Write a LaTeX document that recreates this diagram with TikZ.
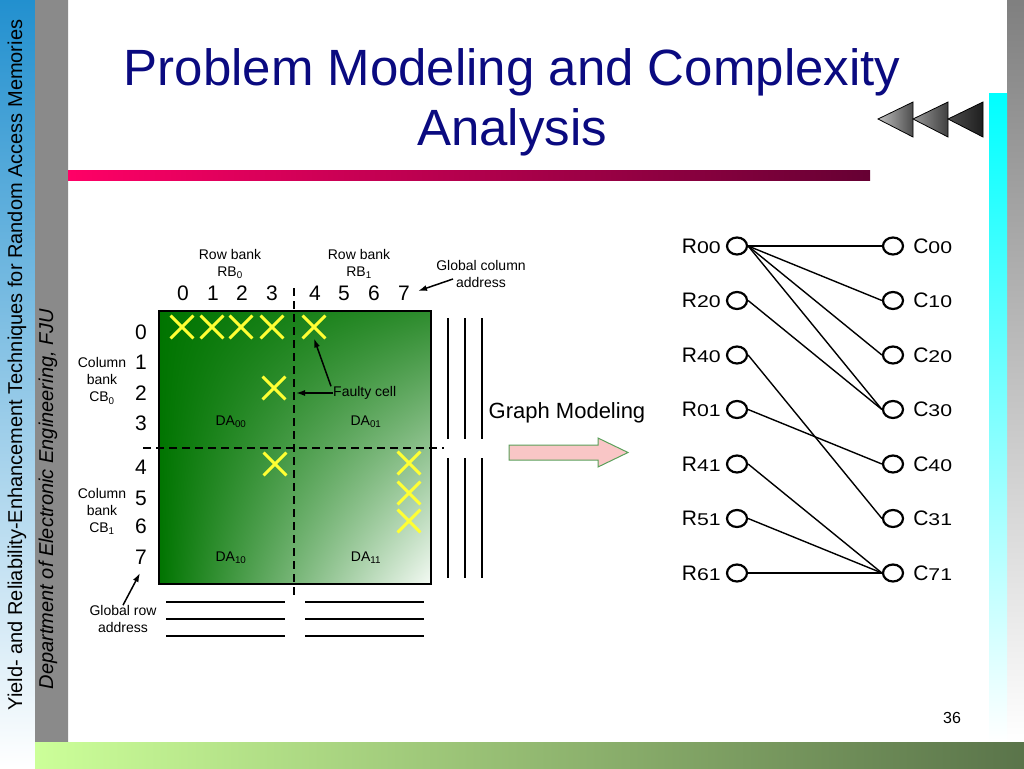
\documentclass[tikz,border=0pt]{standalone}
\usepackage{fontspec}
\setmainfont{Liberation Sans}
\usetikzlibrary{arrows.meta, positioning, shapes.geometric, shapes.misc, shadings}
\definecolor{titlenavy}{HTML}{0A0A80}
\definecolor{sideblue}{HTML}{2290CF}
\definecolor{sidegray}{HTML}{8A8A8A}
\definecolor{sidelight}{HTML}{F2F2F2}
\definecolor{barpink}{HTML}{FF0066}
\definecolor{barwine}{HTML}{660033}
\definecolor{footlight}{HTML}{CCFF99}
\definecolor{footdark}{HTML}{5A744A}
\definecolor{edgecyan}{HTML}{00FFFF}
\definecolor{memdark}{HTML}{007400}
\definecolor{memmid}{HTML}{2E8C2E}
\definecolor{memlight}{HTML}{F4FAF4}
\definecolor{faultyellow}{HTML}{FFFF33}
\definecolor{arrowpink}{HTML}{F9C6C6}
\definecolor{arrowgreen}{HTML}{5AA05A}
\newcommand{\vname}[2]{#1{\fontsize{17pt}{17pt}\selectfont\scalebox{1.25}[1]{#2}}}

\begin{document}
\begin{tikzpicture}[x=1pt, y=-1pt,
    node distance=35.3pt,
    >={Latex[length=9pt, width=6pt]},
    idx/.style={font=\fontsize{21pt}{21pt}\selectfont, inner sep=0pt},
    lbl/.style={font=\fontsize{14pt}{17pt}\selectfont, align=center, inner sep=0pt},
    fault/.style={cross out, draw=faultyellow, line width=2.9pt, minimum size=20pt, inner sep=0pt},
    vtx/.style={ellipse, draw, line width=2.2pt, minimum width=20pt, minimum height=17pt, inner sep=0pt},
    vlab/.style={font=\fontsize{21pt}{21pt}\selectfont, inner sep=0pt},
    split/.style={dash pattern=on 8pt off 5pt, line width=1.8pt},
    bus/.style={line width=1.8pt},
    arr/.style={->, line width=1.5pt},
    edge/.style={line width=1.4pt},
]
\useasboundingbox (0,0) rectangle (1024,768);

% Slide background bars
\shade[top color=sideblue, bottom color=white] (0,0) rectangle (35,768);
\shade[top color=sidegray, middle color=sidelight, bottom color=sidegray] (35,0) rectangle (68,742);
\shade[top color=gray, bottom color=white] (1007,0) rectangle (1024,742);
\shade[top color=edgecyan, bottom color=white] (989,93) rectangle (1007,742);
\shade[left color=footlight, right color=footdark] (35,742) rectangle (1024,768);
\shade[left color=barpink, right color=barwine] (68,170) rectangle (870,180);

% Navigation triangles
\shadedraw[left color=black!25, right color=black!70, line width=0.8pt] (878,119) -- (913,102) -- (913,137) -- cycle;
\shadedraw[left color=black!40, right color=black!75, line width=0.8pt] (913,119) -- (948,102) -- (948,137) -- cycle;
\shadedraw[left color=black!70, right color=black!88, line width=0.8pt] (948,119) -- (983,102) -- (983,137) -- cycle;

% Side texts, title and page number
\node[rotate=90, font=\fontsize{20pt}{20pt}\selectfont] (course) at (17,365) {Yield- and Reliability-Enhancement Techniques for Random Access Memories};
\node[rotate=90, font=\fontsize{20pt}{20pt}\selectfont\itshape] (dept) at (48,499) {Department of Electronic Engineering, FJU};
\node[font=\fontsize{51pt}{60pt}\selectfont, text=titlenavy, align=center] (title) at (512,102) {Problem Modeling and Complexity\\Analysis};
\node[font=\fontsize{16pt}{16pt}\selectfont] (pnum) at (952,718) {36};

% Memory array
\shade[upper left=memdark, upper right=memmid, lower left=memdark, lower right=memlight] (159,311) rectangle (431,584);
\draw[line width=2pt] (159,311) rectangle (431,584);
\draw[split] (294,288) -- (294,597);
\draw[split] (143,448) -- (444,448);

% Spare lines
\draw[bus] (448,318) -- (448,439) (465,318) -- (465,439) (482,318) -- (482,439);
\draw[bus] (448,458) -- (448,578) (465,458) -- (465,578) (482,458) -- (482,578);
\draw[bus] (166,602) -- (285,602) (166,619) -- (285,619) (166,636) -- (285,636);
\draw[bus] (305,602) -- (424,602) (305,619) -- (424,619) (305,636) -- (424,636);

% Column and row addresses
\node[idx] (col0) at (183,293) {0};
\node[idx] (col1) at (213,293) {1};
\node[idx] (col2) at (242,293) {2};
\node[idx] (col3) at (272,293) {3};
\node[idx] (col4) at (315,293) {4};
\node[idx] (col5) at (344,293) {5};
\node[idx] (col6) at (374,293) {6};
\node[idx] (col7) at (404,293) {7};
\node[idx] (row0) at (141,332) {0};
\node[idx] (row1) at (141,362) {1};
\node[idx] (row2) at (141,393) {2};
\node[idx] (row3) at (141,423) {3};
\node[idx] (row4) at (141,467) {4};
\node[idx] (row5) at (141,498) {5};
\node[idx] (row6) at (141,526) {6};
\node[idx] (row7) at (141,557) {7};

% Bank labels
\node[lbl] (rb0) at (230,264) {Row bank\\RB\textsubscript{0}};
\node[lbl] (rb1) at (359,264) {Row bank\\RB\textsubscript{1}};
\node[lbl] (cb0) at (102,381) {Column\\bank\\CB\textsubscript{0}};
\node[lbl] (cb1) at (102,511) {Column\\bank\\CB\textsubscript{1}};
\node[lbl] (gca) at (481,274) {Global column\\address};
\node[lbl] (gra) at (123,619) {Global row\\address};
\node[lbl] (da00) at (231,422) {DA\textsubscript{00}};
\node[lbl] (da01) at (366,422) {DA\textsubscript{01}};
\node[lbl] (da10) at (231,558) {DA\textsubscript{10}};
\node[lbl] (da11) at (366,558) {DA\textsubscript{11}};

% Faulty cells
\node[fault] (f00) at (182,327) {};
\node[fault] (f01) at (212,327) {};
\node[fault] (f02) at (241,327) {};
\node[fault] (f03) at (272,327) {};
\node[fault] (f04) at (314,327) {};
\node[fault] (f23) at (274,388) {};
\node[fault] (f43) at (275,464) {};
\node[fault] (f47) at (409,463) {};
\node[fault] (f57) at (409,493) {};
\node[fault] (f67) at (409,521) {};
\node[lbl, anchor=west] (faulty) at (333,393) {Faulty cell};

% Annotation arrows
\coordinate (gchead) at (418,291);
\coordinate (grhead) at (140,573);
\coordinate (fthead) at (296,393);
\draw[arr] (453,279) -- (gchead);
\draw[arr] (gra.north) -- (grhead);
\draw[arr] (faulty.west) -- (fthead);
\draw[arr] ([xshift=-2pt]faulty.north west) -- (f04.south);

% Graph modeling arrow
\node[font=\fontsize{22pt}{22pt}\selectfont] (gm) at (567,413) {Graph Modeling};
\draw[fill=arrowpink, draw=arrowgreen, line width=1pt] (509,445) -- (598,445) -- (598,438) -- (628,452.5) -- (598,467) -- (598,460) -- (509,460) -- cycle;

% Bipartite graph: row vertices
\node[vtx] (r00) at (737,246) {};
\node[vtx, below=of r00] (r20) {};
\node[vtx, below=of r20] (r40) {};
\node[vtx, below=of r40] (r01) {};
\node[vtx, below=of r01] (r41) {};
\node[vtx, below=of r41] (r51) {};
\node[vtx, below=of r51] (r61) {};

% column vertices
\node[vtx] (c00) at (893,246) {};
\node[vtx, below=of c00] (c10) {};
\node[vtx, below=of c10] (c20) {};
\node[vtx, below=of c20] (c30) {};
\node[vtx, below=of c30] (c40) {};
\node[vtx, below=of c40] (c31) {};
\node[vtx, below=of c31] (c71) {};

\node[vlab, left=5pt of r00] (lr00) {\vname{R}{00}};
\node[vlab, left=5pt of r20] (lr20) {\vname{R}{20}};
\node[vlab, left=5pt of r40] (lr40) {\vname{R}{40}};
\node[vlab, left=5pt of r01] (lr01) {\vname{R}{01}};
\node[vlab, left=5pt of r41] (lr41) {\vname{R}{41}};
\node[vlab, left=5pt of r51] (lr51) {\vname{R}{51}};
\node[vlab, left=5pt of r61] (lr61) {\vname{R}{61}};
\node[vlab, right=9pt of c00] (lc00) {\vname{C}{00}};
\node[vlab, right=9pt of c10] (lc10) {\vname{C}{10}};
\node[vlab, right=9pt of c20] (lc20) {\vname{C}{20}};
\node[vlab, right=9pt of c30] (lc30) {\vname{C}{30}};
\node[vlab, right=9pt of c40] (lc40) {\vname{C}{40}};
\node[vlab, right=9pt of c31] (lc31) {\vname{C}{31}};
\node[vlab, right=9pt of c71] (lc71) {\vname{C}{71}};

% Edges
\draw[edge] (r00.east) -- (c00.west);
\draw[edge] (r00.east) -- (c10.west);
\draw[edge] (r00.east) -- (c20.west);
\draw[edge] (r00.east) -- (c30.west);
\draw[edge] (r20.east) -- (c30.west);
\draw[edge] (r40.east) -- (c31.west);
\draw[edge] (r01.east) -- (c40.west);
\draw[edge] (r41.east) -- (c71.west);
\draw[edge] (r51.east) -- (c71.west);
\draw[edge] (r61.east) -- (c71.west);

\end{tikzpicture}
\end{document}
